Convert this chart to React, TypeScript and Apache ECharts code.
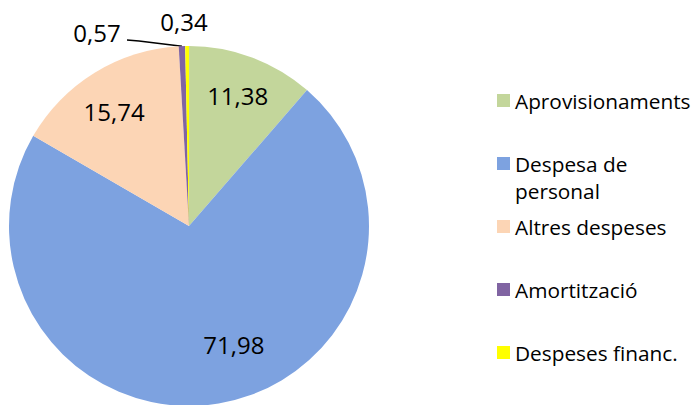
import React, { useEffect, useRef } from 'react';
import * as echarts from 'echarts';

const categories = ['Aprovisionaments', 'Despesa de personal', 'Altres despeses', 'Amortització', 'Despeses financ.'];
const values = [11.38, 71.98, 15.74, 0.57, 0.34];
const colors = ['#C3D69B', '#7DA2E0', '#FCD5B5', '#8064A2', '#FFFF00'];

const CX = 189;
const CY = 226;
const R = 180;
const FONT = '"Open Sans", "Noto Sans", sans-serif';
const LEGEND_FONT_SIZE = 20.8;
const LEGEND_TOP = 90;
const LEGEND_LINE = 21;
const LEGEND_GAP = 42;
const LEGEND_LINE_PITCH = 27;

// inside labels: polar placement around slice middle (k = fraction of radius, da = angle shift)
// outside labels: fixed spot, optional leader line
const labelPlacement: any[] = [
  { k: 0.773, da: 0 },
  { k: 0.706, da: -11.2 },
  { k: 0.76, da: -1.6 },
  { x: 97, y: 32, line: [[139, 41], [127, 40]] },
  { x: 184, y: 21 },
];

const total = values.reduce((a, b) => a + b, 0);
const midAngles = values.map((v, i) => {
  const before = values.slice(0, i).reduce((a, b) => a + b, 0);
  return ((before + v / 2) / total) * 360;
});
const polar = (angDeg: number, r: number) => {
  const a = (angDeg * Math.PI) / 180;
  return [CX + r * Math.sin(a), CY - r * Math.cos(a)];
};

const splitName = (name: string): [string, string] => {
  if (name.length <= 16) return [name, ''];
  let idx = -1;
  for (let i = 0; i <= 12 && i < name.length; i++) if (name[i] === ' ') idx = i;
  if (idx < 0) return [name, ''];
  return [name.slice(0, idx), name.slice(idx + 1)];
};

export default function App() {
  const ref = useRef<HTMLDivElement>(null);
  useEffect(() => {
    document.body.style.margin = '0';
    if (!ref.current) return;
    const chart = echarts.init(ref.current, undefined, { renderer: 'svg' });

    const graphics: any[] = [];
    categories.forEach((name, i) => {
      const [, rest] = splitName(name);
      if (rest) {
        graphics.push({
          type: 'text',
          x: 515,
          y: LEGEND_TOP + i * (LEGEND_LINE + LEGEND_GAP) + LEGEND_LINE / 2 + LEGEND_LINE_PITCH,
          style: {
            text: rest,
            font: `${LEGEND_FONT_SIZE}px ${FONT}`,
            fill: '#000',
            verticalAlign: 'middle',
            align: 'left',
          },
        });
      }
    });

    chart.setOption({
      animation: false,
      color: colors,
      legend: {
        orient: 'vertical',
        left: 497,
        top: LEGEND_TOP,
        padding: 0,
        itemWidth: 13,
        itemHeight: 13,
        itemGap: LEGEND_GAP,
        icon: 'rect',
        selectedMode: false,
        formatter: (name: string) => splitName(name)[0],
        textStyle: {
          fontFamily: FONT,
          fontSize: LEGEND_FONT_SIZE,
          lineHeight: LEGEND_LINE,
          color: '#000',
        },
        data: categories,
      },
      graphic: graphics,
      series: [
        {
          type: 'pie',
          center: [CX, CY],
          radius: R,
          startAngle: 90,
          clockwise: true,
          avoidLabelOverlap: false,
          silent: true,
          itemStyle: { borderWidth: 0 },
          label: {
            show: true,
            position: 'inside',
            formatter: (p: any) => Number(p.value).toFixed(2).replace('.', ','),
            fontFamily: FONT,
            fontSize: 24,
            color: '#000',
          },
          labelLine: { show: false },
          labelLayout: (params: any) => {
            const i = params.dataIndex;
            const pl = labelPlacement[i];
            if (pl.k !== undefined) {
              const [x, y] = polar(midAngles[i] + pl.da, R * pl.k);
              return { x, y, align: 'center', verticalAlign: 'middle' };
            }
            const out: any = { x: pl.x, y: pl.y, align: 'center', verticalAlign: 'middle' };
            if (pl.line) {
              out.labelLinePoints = [polar(midAngles[i], R), pl.line[0], pl.line[1]];
            }
            return out;
          },
          data: categories.map((name, i) => {
            const pl = labelPlacement[i];
            const item: any = { name, value: values[i] };
            if (pl.k === undefined) {
              item.label = { position: 'outside' };
              item.labelLine = {
                show: !!pl.line,
                lineStyle: { color: '#000', width: 1.5 },
              };
            }
            return item;
          }),
        },
      ],
    });
    return () => chart.dispose();
  }, []);
  return <div ref={ref} style={{ width: 695, height: 405 }} />;
}
